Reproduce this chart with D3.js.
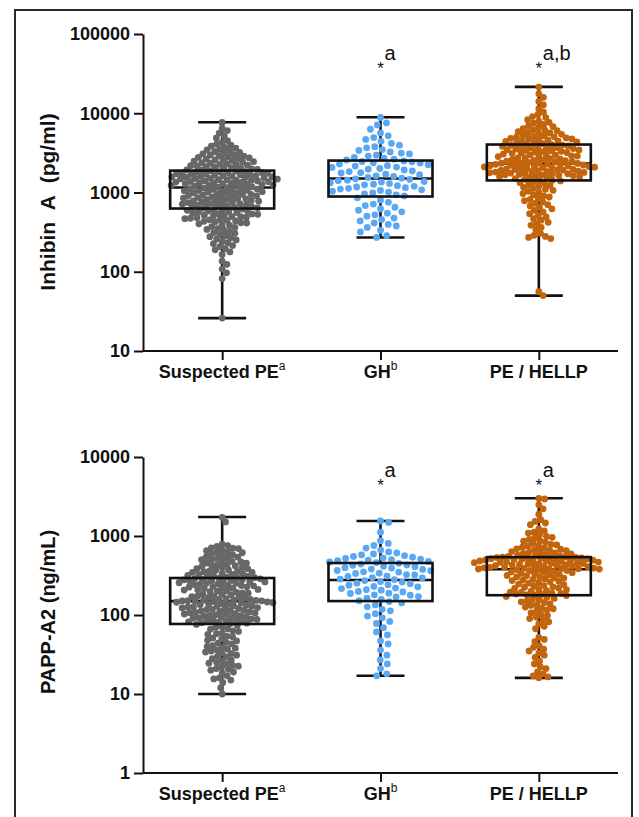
<!DOCTYPE html>
<html><head><meta charset="utf-8">
<script src="https://cdn.jsdelivr.net/npm/d3@7"></script>
<style>
body{margin:0;background:#fff}
svg{display:block}
text{font-family:"Liberation Sans",Arial,Helvetica,sans-serif;fill:#111}
</style>
</head><body><svg id="c" width="639" height="817"></svg>
<script>
// ---------- DATA ----------
const categories = ["Suspected PE", "GH", "PE / HELLP"];
const categorySup = ["a", "b", ""];
const inhibinTicks = [10, 100, 1000, 10000, 100000];
const pappTicks = [1, 10, 100, 1000, 10000];
const inhibinTitle = "Inhibin\u00a0\u00a0A\u00a0\u00a0(pg/ml)";
const pappTitle = "PAPP-A2 (ng/mL)";
const inhibinNotes = ["", "a", "a,b"];
const pappNotes = ["", "a", "a"];
// box stats per group: [min, Q1, median, Q3, max]
const inhibinBox = [[26, 628, 1157, 1890, 7700], [271, 890, 1500, 2530, 8900], [50, 1420, 2320, 4030, 21500]];
const pappBox = [[10, 77, 150, 294, 1740], [17, 150, 277, 455, 1550], [16, 178, 380, 540, 3000]];

const inhibinSuspected = [7650, 6480, 6050, 5620, 5180, 4870, 4520, 4260, 4080, 3960, 3840, 3710, 3620, 3530, 3440, 3360, 3290, 3210, 3150, 3080, 3010, 2960, 2910, 2870, 2820, 2780, 2730, 2690, 2640, 2600, 2570, 2530, 2490, 2450, 2420, 2380, 2340, 2310, 2270, 2240, 2210, 2180, 2150, 2120, 2090, 2060, 2030, 2010, 1980, 1960, 1930, 1910,
  1882, 1867, 1839, 1831, 1806, 1788, 1779, 1752, 1748, 1721, 1714, 1693, 1680, 1668, 1649, 1636, 1630, 1604, 1598, 1575, 1569, 1548, 1539, 1522, 1511, 1503, 1484, 1477, 1455, 1449, 1428, 1419, 1402, 1398, 1377, 1371, 1352, 1347, 1328, 1319, 1306, 1291, 1288, 1270, 1258, 1251, 1233, 1229, 1211, 1199, 1180, 1164,
  1151, 1138, 1126, 1119, 1102, 1093, 1081, 1068, 1057, 1049, 1032, 1024, 1011, 998, 987, 975, 962, 951, 944, 928, 917, 905, 896, 882, 871, 864, 850, 842, 831, 820, 812, 801, 793, 782, 776, 764, 757, 746, 739, 728, 722, 711, 705, 694, 688, 677, 671, 662, 655, 647, 639, 631,
  26, 82, 97, 108, 124, 136, 165, 178, 189, 196, 207, 214, 226, 233, 241, 252, 259, 268, 277, 284, 296, 305, 312, 321, 334, 342, 351, 363, 372, 384, 391, 403, 412, 425, 433, 446, 458, 467, 479, 488, 497, 509, 518, 531, 540, 552, 563, 571, 584, 596, 607, 619,
  415, 438, 452, 473, 494, 515, 536, 558, 589, 612];
const inhibinGH = [8870, 7540, 7120, 6280, 5640, 5190, 4930, 4680, 4420, 4170, 3960, 3790, 3660, 3480, 3390, 3250, 3140, 3070, 2960, 2880, 2780, 2710, 2630, 2570,
  2505, 2462, 2437, 2374, 2351, 2286, 2247, 2183, 2158, 2096, 2071, 2008, 1967, 1925, 1874, 1838, 1786, 1761, 1704, 1679, 1622, 1597, 1548, 1517,
  1488, 1462, 1431, 1409, 1377, 1352, 1328, 1296, 1271, 1249, 1221, 1198, 1173, 1150, 1129, 1104, 1082, 1061, 1037, 1013, 986, 962, 934, 905,
  271, 285, 318, 334, 362, 378, 395, 412, 438, 455, 476, 502, 523, 548, 571, 597, 624, 651, 683, 714, 752, 801, 856];
const inhibinPE = [21400, 17600, 15900, 14100, 12700, 11400, 10300, 9650, 8820, 8290, 7930, 7480, 7230, 6870, 6640, 6390, 6180, 6020, 5860, 5690, 5540, 5420, 5290, 5180, 5090, 4990, 4880, 4810, 4730, 4650, 4570, 4490, 4410, 4340, 4270, 4190, 4130, 4060, 4450, 4760, 5040, 5630, 6130, 6790, 7690, 9080,
  4016, 3968, 3931, 3874, 3842, 3786, 3749, 3697, 3662, 3605, 3581, 3527, 3474, 3449, 3391, 3362, 3305, 3284, 3228, 3197, 3143, 3118, 3061, 3042, 2983, 2961, 2904, 2878, 2836, 2807, 2753, 2731, 2682, 2659, 2611, 2593, 2548, 2519, 2487, 2456, 2425, 2398, 2371, 2352, 2338, 2327,
  2309, 2287, 2266, 2248, 2224, 2207, 2183, 2168, 2144, 2129, 2103, 2089, 2068, 2047, 2031, 2009, 1991, 1972, 1953, 1937, 1916, 1898, 1882, 1861, 1846, 1827, 1809, 1794, 1776, 1758, 1743, 1725, 1709, 1692, 1676, 1659, 1643, 1626, 1611, 1594, 1579, 1562, 1531, 1497, 1466, 1432,
  50, 56, 262, 271, 279, 288, 305, 338, 362, 385, 402, 421, 447, 468, 493, 517, 541, 568, 596, 622, 648, 677, 702, 731, 759, 788, 817, 846, 878, 907, 938, 969, 1002, 1034, 1065, 1098, 1129, 1163, 1195, 1228, 1262, 1297, 1331, 1366, 1398, 1412];

const pappSuspected = [1724, 1507, 788, 757, 738, 709, 694, 663, 651, 627, 614, 592, 581, 559, 549, 528, 521, 502, 496, 478, 473, 455, 452, 436, 433, 417, 414, 401, 398, 386, 384, 371, 369, 359, 357, 347, 345, 336, 335, 326, 325, 317, 316, 309, 308, 301, 300, 297, 353, 418, 471, 541, 623, 702,
  292, 289, 287, 283, 280, 279, 274, 271, 270, 265, 262, 261, 256, 253, 252, 247, 244, 243, 238, 236, 234, 229, 227, 225, 220, 218, 216, 211, 209, 207, 202, 200, 198, 193, 191, 189, 184, 182, 180, 175, 173, 171, 167, 166, 164, 161, 159, 157, 155, 154, 153, 152, 151, 150.5,
  149, 148, 146, 145, 143, 142, 139, 138, 137, 135, 134, 131, 130, 129, 127, 126, 124, 123, 121, 120, 118, 117, 115, 114, 112, 111, 110, 108, 107, 106, 104, 103, 102, 100, 99, 98, 97, 95, 94, 93, 92, 91, 89, 88, 87, 86, 85, 84, 83, 82, 81, 80, 79, 78,
  76, 74, 71, 70, 67, 66, 63, 62, 59, 58, 57, 54, 53, 51, 50, 48, 47, 45, 44, 43, 41, 40, 39, 38, 37, 36, 35, 34, 33, 32.5, 31, 30, 29.5, 28, 27, 26.5, 25, 24.5, 24, 23, 22.5, 22, 21, 20.5, 20, 19, 18.5, 17, 16, 15.5, 15, 14, 12, 10];
const pappGH = [1548, 1487, 1118, 872, 806, 758, 703, 664, 628, 609, 593, 576, 563, 551, 539, 528, 519, 511, 502, 494, 487, 476, 469, 461,
  451, 442, 430, 426, 414, 409, 397, 393, 381, 378, 366, 363, 352, 349, 338, 335, 324, 321, 311, 307, 297, 294, 285, 281,
  273, 265, 261, 253, 249, 241, 238, 230, 227, 219, 216, 209, 206, 199, 196, 189, 187, 180, 178, 171, 169, 163, 158, 152,
  148, 142, 134, 127, 118, 113, 104, 97, 92, 83, 78, 69, 61, 56, 47, 43, 36, 31, 27, 24, 21, 18, 17];
const pappPE = [2990, 2940, 2480, 2210, 1890, 1610, 1530, 1460, 1390, 1230, 1160, 1090, 1040, 992, 943, 904, 861, 833, 801, 772, 744, 721, 703, 682, 664, 651, 636, 623, 611, 601, 592, 583, 574, 566, 559, 553, 547, 542, 618, 657, 689, 736, 782, 871, 962, 1118,
  539, 536, 533, 528, 524, 521, 516, 513, 509, 505, 503, 497, 495, 491, 487, 483, 479, 476, 471, 468, 463, 460, 456, 452, 449, 444, 441, 437, 433, 429, 425, 421, 418, 413, 409, 405, 402, 399, 396, 393, 390, 388, 386, 384, 382, 381,
  376, 373, 366, 363, 356, 353, 346, 343, 336, 333, 326, 323, 316, 313, 306, 303, 296, 293, 286, 283, 276, 273, 266, 263, 256, 253, 246, 243, 236, 233, 227, 225, 219, 217, 211, 209, 203, 201, 195, 194, 189, 188, 184, 183, 180, 179,
  176, 172, 168, 162, 158, 156, 150, 147, 144, 138, 134, 132, 126, 122, 120, 116, 112, 106, 102, 98, 94, 90, 87, 82, 77, 72, 67, 52, 49, 46, 41, 39, 37, 35, 33, 31, 29, 26, 24, 22, 21, 19, 18, 17, 16.5, 16];

const colors = ["#676767", "#5aa7f3", "#c3650d"];
const spacing = [5.7, 8.2, 5.8];

// ---------- DRAW ----------
const svg = d3.select("#c");
svg.append("rect").attr("x", 15).attr("y", 10).attr("width", 617).attr("height", 830)
  .attr("fill", "none").attr("stroke", "#2a2a2a").attr("stroke-width", 2);

const axisX0 = 143, axisX1 = 618;
const x = d3.scalePoint().domain(categories).range([axisX0, axisX1]).padding(0.5);

function swarm(vals, y, d) {
  const pts = vals.map(v => ({ v, y: y(v), x: 0 })).sort((a, b) => a.y - b.y);
  const placed = [];
  for (const p of pts) {
    const near = placed.filter(q => Math.abs(q.y - p.y) < d);
    const cands = [0];
    for (const q of near) {
      const dx = Math.sqrt(d * d - (q.y - p.y) ** 2);
      cands.push(q.x + dx, q.x - dx);
    }
    cands.sort((a, b) => Math.abs(a) - Math.abs(b));
    for (const c of cands) {
      if (near.every(q => (q.x - c) ** 2 + (q.y - p.y) ** 2 >= d * d - 1e-6)) { p.x = c; break; }
    }
    placed.push(p);
  }
  return placed;
}

function panel(cfg) {
  const g = svg.append("g");
  const y = d3.scaleLog().domain(cfg.domain).range([cfg.bottom, cfg.top]);

  // axes
  const ya = g.append("g").attr("transform", `translate(${axisX0},0)`)
    .call(d3.axisLeft(y).tickValues(cfg.ticks).tickFormat(d3.format("d")).tickSize(9).tickSizeOuter(0).tickPadding(4));
  ya.selectAll("path,line").attr("stroke", "#111").attr("stroke-width", 2);
  ya.selectAll("text").attr("font-size", 18).attr("font-weight", "bold").attr("fill", "#111")
    .style("font-family", '"Liberation Sans",Arial,sans-serif');

  const xa = g.append("g").attr("transform", `translate(0,${cfg.bottom})`)
    .call(d3.axisBottom(x).tickSize(9).tickSizeOuter(0).tickFormat(() => ""));
  xa.selectAll("path,line").attr("stroke", "#111").attr("stroke-width", 2);
  xa.select("path").attr("d", `M${axisX0},0H${axisX1}`);

  categories.forEach((c, i) => {
    const t = g.append("text").attr("x", x(c)).attr("y", cfg.bottom + 27)
      .attr("text-anchor", "middle").attr("font-size", 18).attr("font-weight", "bold");
    t.append("tspan").text(c);
    if (categorySup[i]) t.append("tspan").attr("font-size", 12).attr("font-weight", "normal").attr("dy", -8).text(categorySup[i]);
  });

  // title
  g.append("text").attr("transform", `translate(55,${cfg.titleY}) rotate(-90)`)
    .attr("text-anchor", "middle").attr("font-size", cfg.titleSize).attr("font-weight", "bold").text(cfg.title);

  // boxes + dots
  const halfBox = 52, halfCap = 24;
  cfg.groups.forEach((vals, i) => {
    const cx = x(categories[i]);
    const [mn, q1, md, q3, mx] = cfg.box[i];
    const bg = g.append("g").attr("stroke", "#111").attr("stroke-width", 2.6).attr("fill", "none");
    bg.append("line").attr("x1", cx).attr("x2", cx).attr("y1", y(mx)).attr("y2", y(q3));
    bg.append("line").attr("x1", cx).attr("x2", cx).attr("y1", y(q1)).attr("y2", y(mn));
    bg.append("line").attr("x1", cx - halfCap).attr("x2", cx + halfCap).attr("y1", y(mx)).attr("y2", y(mx));
    bg.append("line").attr("x1", cx - halfCap).attr("x2", cx + halfCap).attr("y1", y(mn)).attr("y2", y(mn));
    bg.append("line").attr("x1", cx - halfBox).attr("x2", cx + halfBox).attr("y1", y(md)).attr("y2", y(md));

    const pts = swarm(vals, y, spacing[i]);
    g.append("g").selectAll("circle").data(pts).join("circle")
      .attr("cx", d => cx + d.x).attr("cy", d => d.y).attr("r", 3.4).attr("fill", colors[i]);

    g.append("rect").attr("x", cx - halfBox).attr("y", y(q3)).attr("width", halfBox * 2)
      .attr("height", y(q1) - y(q3)).attr("fill", "none").attr("stroke", "#111").attr("stroke-width", 2.6);

    if (cfg.notes[i]) {
      g.append("text").attr("x", cx).attr("y", cfg.noteY + 11).attr("text-anchor", "middle")
        .attr("font-size", 17).text("*");
      g.append("text").attr("x", cx + 4).attr("y", cfg.noteY - 3).attr("font-size", 20).text(cfg.notes[i]);
    }
  });
}

panel({ domain: [10, 100000], top: 34, bottom: 351, ticks: inhibinTicks, title: inhibinTitle, titleY: 202, titleSize: 21,
  groups: [inhibinSuspected, inhibinGH, inhibinPE], box: inhibinBox, notes: inhibinNotes, noteY: 63 });
panel({ domain: [1, 10000], top: 457, bottom: 773, ticks: pappTicks, title: pappTitle, titleY: 612, titleSize: 20,
  groups: [pappSuspected, pappGH, pappPE], box: pappBox, notes: pappNotes, noteY: 480 });
</script>
</body></html>
